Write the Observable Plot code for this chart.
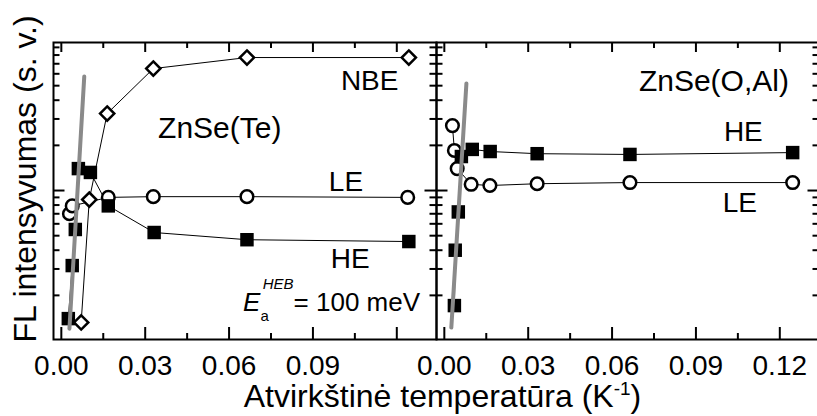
<!DOCTYPE html>
<html>
<head>
<meta charset="utf-8">
<script src="https://cdn.jsdelivr.net/npm/d3@7"></script>
<script src="https://cdn.jsdelivr.net/npm/@observablehq/plot@0.6"></script>
<style>
  html, body { margin: 0; padding: 0; background: #fff; overflow: hidden; }
</style>
</head>
<body>
<div id="chart"></div>
<script>
// Two samples, one panel each
const panels = ["ZnSe(Te)", "ZnSe(O,Al)"];

// ZnSe(Te): inverse temperature (1/K) and PL intensity (arb. units)
const teNbeX = [0.0071, 0.0100, 0.0164, 0.0329, 0.0664, 0.1243];
const teNbeI = [0.132, 0.87, 3.26, 6.5, 7.7, 7.7];
const teLeX = [0.0029, 0.0039, 0.0168, 0.0329, 0.0664, 0.1239];
const teLeI = [0.70, 0.79, 0.90, 0.91, 0.91, 0.90];
const teHeX = [0.0025, 0.0039, 0.0050, 0.0061, 0.0104, 0.0168, 0.0332, 0.0664, 0.1243];
const teHeI = [0.140, 0.316, 0.55, 1.40, 1.32, 0.79, 0.525, 0.47, 0.457];

// ZnSe(O,Al)
const oalHeX = [0.0036, 0.0039, 0.0050, 0.0061, 0.0100, 0.0164, 0.0332, 0.0664, 0.1246];
const oalHeI = [0.171, 0.40, 0.72, 1.685, 1.88, 1.82, 1.76, 1.74, 1.79];
const oalLeX = [0.0029, 0.0036, 0.0046, 0.0096, 0.0163, 0.0332, 0.0664, 0.1246];
const oalLeI = [2.71, 1.85, 1.40, 1.10, 1.08, 1.11, 1.13, 1.13];

// Arrhenius fit of the HE band on the high-temperature side (end points)
const teFitX = [0.0029, 0.0082];
const teFitI = [0.12, 5.75];
const oalFitX = [0.0025, 0.0079];
const oalFitI = [0.122, 5.17];

// Axis ticks
const xMajor = [0, 0.03, 0.06, 0.09, 0.12];
const xMinor = [0.015, 0.045, 0.075, 0.105];
const yMajor = [1];
const yMinor = [0.2, 0.3, 0.4, 0.5, 0.6, 0.7, 0.8, 0.9, 2, 3, 4, 5, 6, 7, 8, 9];
const teTickLabels = [0, 0.03, 0.06, 0.09];
const oalTickLabels = [0, 0.03, 0.06, 0.09, 0.12];

// Annotations (anchored in data units)
const teSeriesNotes = [
  {text: "NBE", x: 0.1, y: 5.33},
  {text: "LE", x: 0.0957, y: 1.148},
  {text: "HE", x: 0.0964, y: 0.352}
];
const oalSeriesNotes = [
  {text: "HE", x: 0.1, y: 2.47},
  {text: "LE", x: 0.0996, y: 0.82}
];
const sampleNotes = [
  {panel: panels[0], x: 0.0346, y: 2.61},
  {panel: panels[1], x: 0.0696, y: 5.38}
];
const energyNote = {panel: panels[0], x: 0.065, y: 0.18, value: "100 meV"};

const xTitle = "Atvirkštinė temperatūra (K-1)";
const yTitle = "FL intensyvumas (s. v.)";

// ---- tables
const rows = (panel, series, xs, ys) => xs.map((x, i) => ({panel, series, x, y: ys[i]}));
const nbe = rows(panels[0], "NBE", teNbeX, teNbeI);
const le = [...rows(panels[0], "LE", teLeX, teLeI), ...rows(panels[1], "LE", oalLeX, oalLeI)];
const he = [...rows(panels[0], "HE", teHeX, teHeI), ...rows(panels[1], "HE", oalHeX, oalHeI)];
const fits = [...rows(panels[0], "fit", teFitX, teFitI), ...rows(panels[1], "fit", oalFitX, oalFitI)];
const allSeries = [...nbe, ...le, ...he];
const seriesNotes = [
  ...teSeriesNotes.map(d => ({...d, panel: panels[0]})),
  ...oalSeriesNotes.map(d => ({...d, panel: panels[1]}))
];
const tickRows = [
  ...teTickLabels.map(x => ({panel: panels[0], x})),
  ...oalTickLabels.map(x => ({panel: panels[1], x}))
];

// ---- layout
const W = 819, H = 416, mL = 52, mR = 0, mT = 42, mB = 77;
const frameH = H - mT - mB;
const panelW = (W - mL - mR) / 2;
const fmt = d3.format(".2f");

const plot = Plot.plot({
  width: W,
  height: H,
  marginLeft: mL,
  marginRight: mR,
  marginTop: mT,
  marginBottom: mB,
  fx: {domain: panels, padding: 0, axis: null},
  x: {domain: [-0.0028, 0.1342], axis: null},
  y: {type: "log", domain: [0.1016, 9.7], axis: null},
  marks: [
    // connecting lines
    Plot.line(allSeries, {x: "x", y: "y", z: d => d.panel + d.series, fx: "panel", stroke: "black", strokeWidth: 1}),
    // markers
    Plot.dot(le, {x: "x", y: "y", fx: "panel", symbol: "circle", r: 6.3, fill: "white", stroke: "black", strokeWidth: 2.5}),
    Plot.dot(he, {x: "x", y: "y", fx: "panel", symbol: "square", r: 7.6, fill: "black", stroke: "none"}),
    Plot.dot(nbe, {x: "x", y: "y", fx: "panel", symbol: "diamond2", r: 6.4, fill: "white", stroke: "black", strokeWidth: 2.5}),
    // activation-energy fit
    Plot.line(fits, {x: "x", y: "y", z: "panel", fx: "panel", stroke: "#8a8a8a", strokeWidth: 4}),
    // inward ticks on all four sides
    Plot.ruleX(xMajor, {x: d => d, insetTop: frameH - 12, strokeWidth: 2}),
    Plot.ruleX(xMajor, {x: d => d, insetBottom: frameH - 10, strokeWidth: 2}),
    Plot.ruleX(xMinor, {x: d => d, insetTop: frameH - 6, strokeWidth: 2}),
    Plot.ruleX(xMinor, {x: d => d, insetBottom: frameH - 6, strokeWidth: 2}),
    Plot.ruleY(yMajor, {y: d => d, insetRight: panelW - 12, strokeWidth: 2}),
    Plot.ruleY(yMajor, {y: d => d, insetLeft: panelW - 12, strokeWidth: 2}),
    Plot.ruleY(yMinor, {y: d => d, insetRight: panelW - 7, strokeWidth: 2}),
    Plot.ruleY(yMinor, {y: d => d, insetLeft: panelW - 7, strokeWidth: 2}),
    Plot.frame({stroke: "black", strokeWidth: 2}),
    // tick labels
    Plot.text(tickRows, {x: "x", fx: "panel", text: d => fmt(d.x), frameAnchor: "bottom", lineAnchor: "middle", textAnchor: "middle", dy: 27, fontSize: 28}),
    // annotations
    Plot.text(seriesNotes, {x: "x", y: "y", fx: "panel", text: "text", textAnchor: "start", lineAnchor: "middle", fontSize: 28}),
    Plot.text(sampleNotes, {x: "x", y: "y", fx: "panel", text: "panel", textAnchor: "start", lineAnchor: "middle", fontSize: 30}),
    Plot.text([energyNote], {x: "x", y: "y", fx: "panel", text: () => "E", textAnchor: "start", lineAnchor: "middle", fontSize: 26}),
    // axis titles
    Plot.text([xTitle], {facet: "super", text: d => d, frameAnchor: "bottom", textAnchor: "middle", lineAnchor: "middle", dx: 6, dy: 57, fontSize: 32}),
    Plot.text([yTitle], {facet: "super", text: d => d, frameAnchor: "left", textAnchor: "middle", lineAnchor: "middle", rotate: -90, dx: -28, dy: -12, fontSize: 32})
  ]
});

plot.style.maxWidth = "none";
plot.setAttribute("font-family", "'Liberation Sans', Arial, sans-serif");

// rich text: E_a^HEB = 100 meV
d3.select(plot).selectAll("text").filter(function () { return this.textContent === "E"; })
  .each(function () {
    const t = d3.select(this).text(null);
    t.append("tspan").attr("font-style", "italic").text("E");
    t.append("tspan").attr("font-size", 15).attr("dy", 10).text("a");
    t.append("tspan").attr("font-size", 15).attr("font-style", "italic").attr("dx", -6).attr("dy", -32).text("HEB");
    t.append("tspan").attr("dy", 22).text("= " + energyNote.value);
  });

// superscript in the x title
d3.select(plot).selectAll("text").filter(function () { return this.textContent === xTitle; })
  .each(function () {
    const t = d3.select(this).text(null);
    const cut = xTitle.indexOf("-1");
    t.append("tspan").text(xTitle.slice(0, cut));
    t.append("tspan").attr("font-size", 19).attr("dy", -12).text("-1");
    t.append("tspan").attr("dy", 12).text(xTitle.slice(cut + 2));
  });

document.getElementById("chart").append(plot);
</script>
</body>
</html>
